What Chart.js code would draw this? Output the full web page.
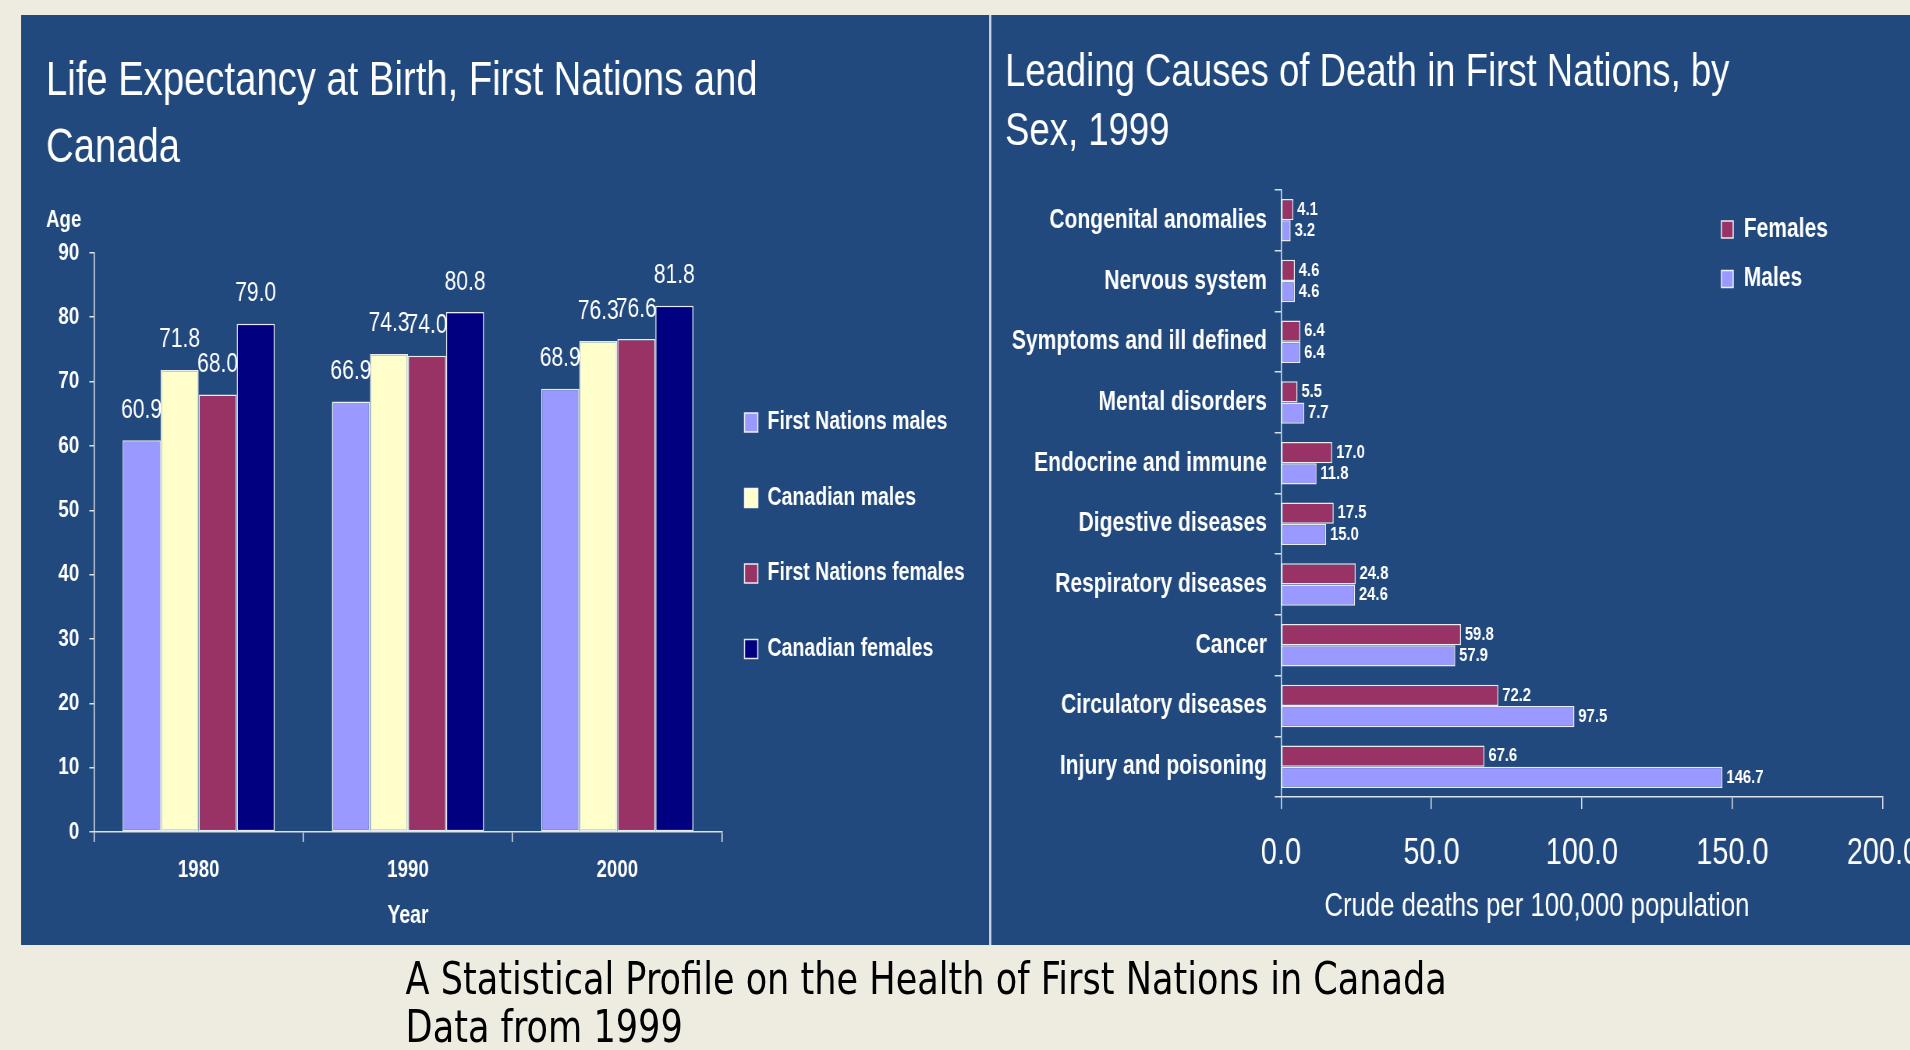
<!DOCTYPE html>
<html><head><meta charset="utf-8">
<script src="https://cdn.jsdelivr.net/npm/chart.js@4.4.1/dist/chart.umd.min.js"></script>
<style>
html,body{margin:0;padding:0;background:#EEEBE0;width:1910px;height:1050px;overflow:hidden;}
#stage{position:absolute;left:0;top:0;width:2449px;height:1050px;transform:scaleX(0.78);transform-origin:0 0;}
#panel{position:absolute;left:27px;top:15px;width:2422px;height:930px;background:#21497D;}
#divider{position:absolute;left:1268px;top:15px;width:3px;height:930px;background:#C9D2E2;}
canvas{position:absolute;top:15px;}
#cLeft{left:27px;}
#cRight{left:1271px;}
#caption{position:absolute;left:520px;top:955px;font-family:"DejaVu Sans",sans-serif;font-size:45px;line-height:48px;color:#000;white-space:nowrap;}
</style></head>
<body>
<div id="stage">
<div id="panel"></div>
<canvas id="cLeft" width="1241" height="930"></canvas>
<div id="divider"></div>
<canvas id="cRight" width="1178" height="930"></canvas>
<div id="caption">A Statistical Profile on the Health of First Nations in Canada<br>Data from 1999</div>
</div>
<script>
// ---- data ----
const years = ['1980', '1990', '2000'];
const fnMales = [60.9, 66.9, 68.9];
const canMales = [71.8, 74.3, 76.3];
const fnFemales = [68.0, 74.0, 76.6];
const canFemales = [79.0, 80.8, 81.8];

const causes = ['Congenital anomalies', 'Nervous system', 'Symptoms and ill defined', 'Mental disorders',
  'Endocrine and immune', 'Digestive diseases', 'Respiratory diseases', 'Cancer',
  'Circulatory diseases', 'Injury and poisoning'];
const femaleDeaths = [4.1, 4.6, 6.4, 5.5, 17.0, 17.5, 24.8, 59.8, 72.2, 67.6];
const maleDeaths = [3.2, 4.6, 6.4, 7.7, 11.8, 15.0, 24.6, 57.9, 97.5, 146.7];

// ---- style ----
const FAMILY = '"Liberation Sans", Arial, sans-serif';
const WHITE = '#FFFFFF';
const AXIS = '#DCE2EC';
const C_LAV = '#9999FF', C_YEL = '#FFFFCC', C_MAR = '#993366', C_NAV = '#000080';
Chart.defaults.font.family = FAMILY;
Chart.defaults.color = WHITE;
Chart.defaults.animation = false;

const valueLabels = {
  id: 'valueLabels',
  afterDatasetsDraw(chart, args, opts) {
    const ctx = chart.ctx;
    ctx.save();
    ctx.fillStyle = WHITE;
    ctx.font = opts.font;
    chart.data.datasets.forEach((ds, i) => {
      const meta = chart.getDatasetMeta(i);
      meta.data.forEach((el, j) => {
        const txt = ds.data[j].toFixed(1);
        ctx.textBaseline = 'middle';
        if (opts.horizontal) {
          ctx.textAlign = 'left';
          ctx.fillText(txt, el.x + opts.offset, el.y);
        } else {
          ctx.textAlign = 'center';
          ctx.fillText(txt, el.x, el.y - opts.offset);
        }
      });
    });
    ctx.restore();
  }
};

const legendPlace = {
  id: 'legendPlace',
  afterLayout(chart, args, opts) {
    const lg = chart.legend;
    if (!lg) return;
    const w = lg.width, h = lg.height;
    lg.left = opts.x; lg.right = opts.x + w;
    lg.top = opts.y; lg.bottom = opts.y + h;
  }
};

const barStyle = { borderColor: 'rgba(255,255,255,0.9)', borderWidth: 1.5, borderSkipped: false, barPercentage: 1.0 };

// ---- left chart ----
new Chart(document.getElementById('cLeft'), {
  type: 'bar',
  data: {
    labels: years,
    datasets: [
      { label: 'First Nations males', data: fnMales, backgroundColor: C_LAV },
      { label: 'Canadian males', data: canMales, backgroundColor: C_YEL },
      { label: 'First Nations females', data: fnFemales, backgroundColor: C_MAR },
      { label: 'Canadian females', data: canFemales, backgroundColor: C_NAV }
    ].map(d => Object.assign(d, barStyle, { categoryPercentage: 0.727 }))
  },
  plugins: [valueLabels, legendPlace],
  options: {
    responsive: false,
    layout: { padding: { left: 32, right: 0, top: 0, bottom: 0 } },
    plugins: {
      title: {
        display: true, align: 'start', color: WHITE,
        text: ['Life Expectancy at Birth, First Nations and', 'Canada'],
        font: { size: 49, weight: 'normal', lineHeight: 67 / 49 },
        padding: { top: 33, bottom: 0 }
      },
      subtitle: {
        display: true, align: 'start', color: WHITE, text: 'Age',
        font: { size: 24, weight: 'bold', lineHeight: 1.2 },
        padding: { top: 23.5, bottom: 18.6 }
      },
      legend: {
        position: 'chartArea', align: 'start',
        labels: { color: WHITE, boxWidth: 17, boxHeight: 19, padding: 50.5,
          font: { size: 25, weight: 'bold' } }
      },
      legendPlace: { x: 877, y: 344.5 },
      valueLabels: { font: 'normal 27px ' + FAMILY, offset: 30 },
      tooltip: { enabled: false }
    },
    scales: {
      x: {
        grid: { drawOnChartArea: false, color: AXIS, lineWidth: 1.5, tickLength: 10 },
        border: { color: AXIS, width: 1.5 },
        ticks: { color: WHITE, font: { size: 24, weight: 'bold' }, padding: 14 },
        title: { display: true, text: 'Year', color: WHITE, font: { size: 25, weight: 'bold' },
          padding: { top: 0, bottom: 14 } },
        afterFit(s) { s.height = 113; s.paddingLeft = 0; s.paddingRight = 0; }
      },
      y: {
        min: 0, max: 90,
        grid: { drawOnChartArea: false, color: AXIS, lineWidth: 1.5, tickLength: 6 },
        border: { color: AXIS, width: 1.5 },
        ticks: { stepSize: 10, color: WHITE, font: { size: 24, weight: 'bold' }, padding: 13 },
        afterFit(s) { s.width = 61.5; }
      },
      // empty right-side axis that only reserves the legend's room
      yLegendRoom: {
        type: 'linear', position: 'right', display: true,
        grid: { display: false, drawTicks: false }, border: { display: false },
        ticks: { display: false },
        afterFit(s) { s.width = 342.4; }
      }
    }
  }
});

// ---- right chart ----
new Chart(document.getElementById('cRight'), {
  type: 'bar',
  data: {
    labels: causes,
    datasets: [
      { label: 'Females', data: femaleDeaths, backgroundColor: C_MAR },
      { label: 'Males', data: maleDeaths, backgroundColor: C_LAV }
    ].map(d => Object.assign(d, barStyle, { categoryPercentage: 0.7 }))
  },
  plugins: [valueLabels, legendPlace],
  options: {
    indexAxis: 'y',
    responsive: false,
    layout: { padding: { left: 17.5, right: 35, top: 0, bottom: 0 } },
    plugins: {
      title: {
        display: true, align: 'start', color: WHITE,
        text: ['Leading Causes of Death in First Nations, by', 'Sex, 1999'],
        font: { size: 46.8, weight: 'normal', lineHeight: 59 / 46.8 },
        padding: { top: 28.5, bottom: 28.5 }
      },
      legend: {
        position: 'chartArea', align: 'start',
        labels: { color: WHITE, boxWidth: 15, boxHeight: 17, padding: 22.5,
          font: { size: 27, weight: 'bold' } }
      },
      legendPlace: { x: 913.5, y: 178.5 },
      valueLabels: { font: 'bold 19px ' + FAMILY, offset: 5, horizontal: true },
      tooltip: { enabled: false }
    },
    scales: {
      x: {
        min: 0, max: 200,
        grid: { drawOnChartArea: false, color: AXIS, lineWidth: 1.5, tickLength: 12 },
        border: { color: AXIS, width: 1.5 },
        ticks: { stepSize: 50, color: WHITE, font: { size: 37, weight: 'normal' }, padding: 23,
          callback: v => Number(v).toFixed(1) },
        title: { display: true, text: 'Crude deaths per 100,000 population\u2003\u2003\u2003\u2002', color: WHITE,
          font: { size: 33, weight: 'normal' }, padding: { top: 0, bottom: 18 } },
        afterFit(s) { s.height = 148; s.paddingLeft = 0; s.paddingRight = 0; }
      },
      y: {
        grid: { drawOnChartArea: false, color: AXIS, lineWidth: 1.5, tickLength: 8 },
        border: { color: AXIS, width: 1.5 },
        ticks: { color: WHITE, font: { size: 27, weight: 'bold' }, padding: 10, autoSkip: false },
        afterFit(s) { s.width = 353.8; }
      }
    }
  }
});
</script>
</body></html>
